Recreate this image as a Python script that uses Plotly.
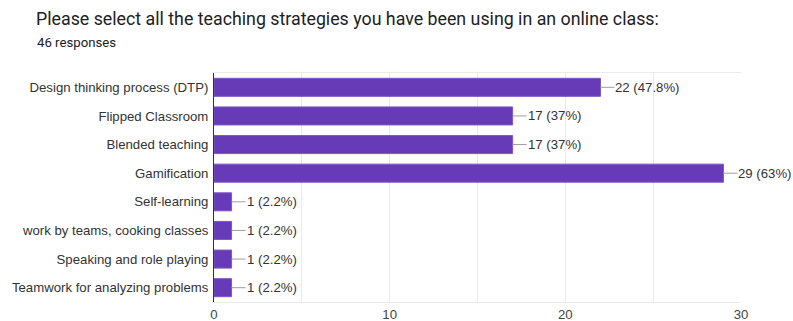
import plotly.graph_objects as go

# Survey results: teaching strategies used in an online class
categories = [
    "Design thinking process (DTP)",
    "Flipped Classroom",
    "Blended teaching",
    "Gamification",
    "Self-learning",
    "work by teams, cooking classes",
    "Speaking and role playing",
    "Teamwork for analyzing problems",
]
counts = [22, 17, 17, 29, 1, 1, 1, 1]
percent_labels = ["47.8%", "37%", "37%", "63%", "2.2%", "2.2%", "2.2%", "2.2%"]
total_responses = 46

title_text = "Please select all the teaching strategies you have been using in an online class:"
subtitle_text = f"{total_responses} responses"

bar_color = "#673ab7"
label_font = dict(family="Liberation Sans, Arial, sans-serif", size=13.2, color="#333333")

fig = go.Figure(
    go.Bar(
        x=counts,
        y=categories,
        orientation="h",
        marker=dict(color=bar_color, line=dict(color="#7e57c2", width=1)),
        width=0.63,
        hoverinfo="skip",
    )
)

# Value labels joined to bar ends by a short leader line
for cat, val, pct in zip(categories, counts, percent_labels):
    fig.add_annotation(
        x=val,
        y=cat,
        text=f"{val} ({pct})",
        showarrow=True,
        arrowhead=0,
        arrowwidth=1,
        arrowcolor="#9e9e9e",
        ax=14,
        ay=0,
        xanchor="left",
        font=label_font,
        standoff=0,
        borderpad=0,
    )

fig.add_annotation(
    text=subtitle_text,
    xref="paper",
    yref="paper",
    x=0,
    y=1,
    xshift=-179,
    yshift=31,
    xanchor="left",
    yanchor="middle",
    showarrow=False,
    font=dict(family="Roboto, Arial, sans-serif", size=13.2, color="#202124"),
)

fig.update_layout(
    width=793,
    height=321,
    margin=dict(l=214, r=52, t=73, b=19),
    paper_bgcolor="white",
    plot_bgcolor="white",
    showlegend=False,
    title=dict(
        text=title_text,
        xref="container",
        yref="container",
        x=36 / 793,
        y=1 - 19 / 321,
        xanchor="left",
        yanchor="middle",
        font=dict(family="Roboto, Arial, sans-serif", size=17.8, color="#202124"),
    ),
    xaxis=dict(
        range=[0, 30],
        tickvals=[0, 10, 20, 30],
        showgrid=True,
        gridcolor="#ebebeb",
        gridwidth=1,
        minor=dict(dtick=5, showgrid=True, gridcolor="#ebebeb"),
        zeroline=False,
        showline=True,
        linecolor="#ebebeb",
        mirror=True,
        tickfont=dict(family="Liberation Sans, Arial, sans-serif", size=13.2, color="#444444"),
        ticks="",
        automargin=False,
        fixedrange=True,
    ),
    yaxis=dict(
        autorange="reversed",
        tickfont=label_font,
        ticks="",
        ticklabelstandoff=2,
        showgrid=False,
        showline=True,
        linecolor="#333333",
        linewidth=1,
        automargin=False,
        fixedrange=True,
    ),
)

fig.write_html("out.html")
